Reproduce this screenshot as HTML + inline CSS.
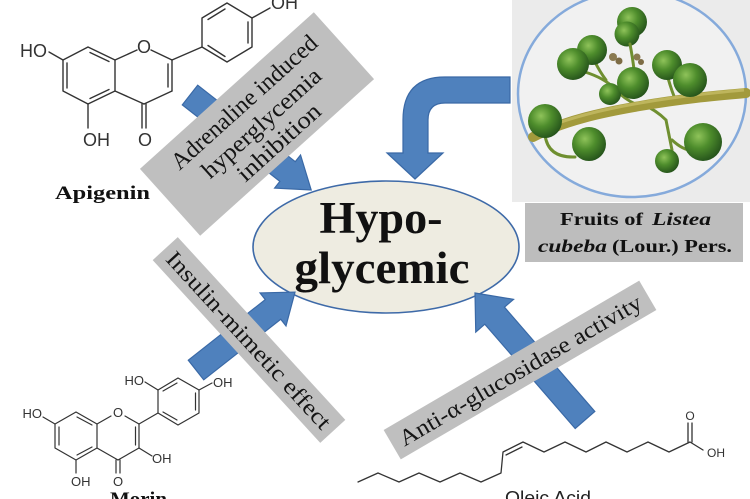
<!DOCTYPE html>
<html><head><meta charset="utf-8"><style>
html,body{margin:0;padding:0;background:#fff;}
svg{display:block;}
</style></head><body>
<svg width="750" height="499" viewBox="0 0 750 499" xmlns="http://www.w3.org/2000/svg">
<defs>
<radialGradient id="gb" cx="38%" cy="35%" r="70%">
<stop offset="0" stop-color="#8fc35a"/>
<stop offset="0.45" stop-color="#4e8d2c"/>
<stop offset="1" stop-color="#23501a"/>
</radialGradient>
</defs>
<rect width="750" height="499" fill="#fff"/>

<!-- Photo -->
<rect x="512" y="0" width="238" height="202" fill="#ebebeb"/>
<ellipse cx="632" cy="94" rx="114" ry="103" fill="#f1f1f1" stroke="#85aadb" stroke-width="2.5"/>
<g>
<circle cx="632" cy="22" r="15" fill="url(#gb)"/>
<circle cx="627" cy="34" r="12.5" fill="url(#gb)"/>
<g fill="none" stroke="#6f8f30" stroke-width="3" stroke-linecap="round">
<path d="M630,44 Q633,60 634,70"/>
<path d="M585,72 Q604,78 614,88 Q626,101 640,106"/>
<path d="M595,62 Q600,72 606,80"/>
<path d="M642,104 Q656,110 666,120 L672,150"/>
<path d="M668,78 Q672,92 676,101"/>
<path d="M688,94 Q680,98 676,103"/>
<path d="M672,140 Q685,152 695,150"/>
<path d="M545,135 Q548,158 575,157"/>
</g>
<path d="M533,137 C565,120 605,112 640,106 C680,99 712,96 746,93" fill="none" stroke="#a29a3c" stroke-width="10" stroke-linecap="round"/>
<path d="M540,130 C570,117 605,109 640,103 C680,96 712,93 744,90" fill="none" stroke="#c6bb64" stroke-width="3" opacity="0.8"/>
<circle cx="613" cy="57" r="4" fill="#8a7a50"/>
<circle cx="619" cy="61" r="3.5" fill="#7d6c45"/>
<circle cx="637" cy="57" r="3.5" fill="#8a7a50"/>
<circle cx="641" cy="62" r="3" fill="#7d6c45"/>
<circle cx="592" cy="50" r="15" fill="url(#gb)"/>
<circle cx="573" cy="64" r="16" fill="url(#gb)"/>
<circle cx="610" cy="94" r="11" fill="url(#gb)"/>
<circle cx="633" cy="83" r="16" fill="url(#gb)"/>
<circle cx="667" cy="65" r="15" fill="url(#gb)"/>
<circle cx="690" cy="80" r="17" fill="url(#gb)"/>
<circle cx="545" cy="121" r="17" fill="url(#gb)"/>
<circle cx="589" cy="144" r="17" fill="url(#gb)"/>
<circle cx="703" cy="142" r="19" fill="url(#gb)"/>
<circle cx="667" cy="161" r="12" fill="url(#gb)"/>
</g>

<!-- Fruits label -->
<rect x="525" y="203" width="218" height="59" fill="#bdbdbd"/>
<g font-family="'Liberation Serif', serif" font-weight="bold" font-size="18" fill="#111">
<text x="560" y="225" textLength="83" lengthAdjust="spacingAndGlyphs">Fruits of</text>
<text x="652" y="225" font-style="italic" textLength="59" lengthAdjust="spacingAndGlyphs">Listea</text>
<text x="538" y="252" font-style="italic" textLength="69" lengthAdjust="spacingAndGlyphs">cubeba</text>
<text x="612" y="252" textLength="120" lengthAdjust="spacingAndGlyphs">(Lour.) Pers.</text>
</g>

<!-- Ellipse -->
<ellipse cx="386" cy="247" rx="133" ry="66" fill="#eeece1" stroke="#3e6aa8" stroke-width="1.6"/>
<g font-family="'Liberation Serif', serif" font-weight="bold" font-size="45" fill="#111" text-anchor="middle">
<text x="381" y="233" textLength="123" lengthAdjust="spacingAndGlyphs">Hypo-</text>
<text x="382" y="283" textLength="175" lengthAdjust="spacingAndGlyphs">glycemic</text>
</g>

<!-- Arrows -->
<g fill="#4f81bd" stroke="#3a69a6" stroke-width="1.2" stroke-linejoin="miter">
<path d="M510,77 L445,77 Q403,77 403,120 L403,153 L387,153 L415,179 L443,153 L428,153 L428,120 Q428,103 445,103 L510,103 Z"/>
<polygon transform="translate(190,95) rotate(38.1)" points="0,-12.5 124,-12.5 124,-21 154,0 124,21 124,12.5 0,12.5"/>
<polygon transform="translate(196,370) rotate(-38.2)" points="0,-12.5 98,-12.5 98,-21 126,0 98,21 98,12.5 0,12.5"/>
<polygon transform="translate(585,420) rotate(-130.9)" points="0,-13 138,-13 138,-25 168,0 138,25 138,13 0,13"/>
</g>

<!-- Gray rotated labels -->
<g font-family="'Liberation Serif', serif" font-size="24" fill="#151515" text-anchor="middle">
<g transform="translate(257,124) rotate(-42)">
<rect x="-117" y="-45" width="234" height="90" fill="#bfbfbf"/>
<text x="5" y="-17" textLength="188" lengthAdjust="spacingAndGlyphs">Adrenaline induced</text>
<text x="4" y="10" textLength="152" lengthAdjust="spacingAndGlyphs">hyperglycemia</text>
<text x="4" y="36" textLength="104" lengthAdjust="spacingAndGlyphs">inhibition</text>
</g>
<g transform="translate(249,340) rotate(47.5)">
<rect x="-124" y="-17" width="248" height="34" fill="#bfbfbf"/>
<text x="0" y="8" font-size="23" textLength="232" lengthAdjust="spacingAndGlyphs">Insulin-mimetic effect</text>
</g>
<g transform="translate(520,370) rotate(-30.3)">
<rect x="-148" y="-17" width="296" height="34" fill="#bfbfbf"/>
<text x="0" y="8" font-size="23" textLength="277" lengthAdjust="spacingAndGlyphs">Anti-α-glucosidase activity</text>
</g>
</g>

<!-- Apigenin -->
<g fill="none" stroke="#333" stroke-width="1.4" stroke-linecap="round" stroke-linejoin="round">
<polygon points="88,47 115,60 115,91 88,104 63,91 63,60"/>
<line x1="67" y1="63" x2="67" y2="88"/>
<line x1="90" y1="52.5" x2="109" y2="61.5"/>
<line x1="90" y1="98.5" x2="109" y2="89.5"/>
<line x1="115" y1="60" x2="137" y2="50"/>
<line x1="151" y1="50" x2="172" y2="60"/>
<line x1="172" y1="60" x2="172" y2="91"/>
<line x1="168" y1="64" x2="168" y2="87"/>
<line x1="172" y1="91" x2="144" y2="104"/>
<line x1="144" y1="104" x2="115" y2="91"/>
<line x1="142" y1="104" x2="142" y2="128"/>
<line x1="146" y1="104" x2="146" y2="128"/>
<line x1="88" y1="104" x2="88" y2="128"/>
<line x1="63" y1="60" x2="49" y2="52"/>
<line x1="172" y1="60" x2="202" y2="47"/>
<polygon points="202,47 202,18 227,3 252,18 252,47 227,62"/>
<line x1="208" y1="19.5" x2="225" y2="9"/>
<line x1="248" y1="22" x2="248" y2="43"/>
<line x1="225" y1="56.5" x2="208" y2="45.5"/>
<line x1="252" y1="18" x2="270" y2="8"/>
</g>
<g font-family="'Liberation Sans', sans-serif" font-size="18" fill="#333">
<text x="47" y="57" text-anchor="end">HO</text>
<text x="144" y="53" text-anchor="middle">O</text>
<text x="83" y="146">OH</text>
<text x="145" y="146" text-anchor="middle">O</text>
<text x="271" y="9">OH</text>
</g>
<text x="55" y="199" font-family="'Liberation Serif', serif" font-weight="bold" font-size="19" fill="#111" textLength="95" lengthAdjust="spacingAndGlyphs">Apigenin</text>

<!-- Morin -->
<g fill="none" stroke="#333" stroke-width="1.2" stroke-linecap="round" stroke-linejoin="round">
<polygon points="76,412 97,424 97,448 76,460 55,448 55,424"/>
<line x1="59" y1="427" x2="59" y2="445"/>
<line x1="77" y1="417" x2="92" y2="425"/>
<line x1="77" y1="455" x2="92" y2="447"/>
<line x1="97" y1="424" x2="111" y2="416"/>
<line x1="125" y1="416" x2="139" y2="424"/>
<line x1="139" y1="424" x2="139" y2="448"/>
<line x1="135.5" y1="427" x2="135.5" y2="445"/>
<line x1="139" y1="448" x2="118" y2="460"/>
<line x1="118" y1="460" x2="97" y2="448"/>
<line x1="116" y1="460" x2="116" y2="473"/>
<line x1="120" y1="460" x2="120" y2="473"/>
<line x1="76" y1="460" x2="76" y2="473"/>
<line x1="55" y1="424" x2="43" y2="417"/>
<line x1="139" y1="448" x2="152" y2="456"/>
<line x1="139" y1="424" x2="158" y2="413"/>
<polygon points="158,413 158,390 178,378 199,390 199,413 178,425"/>
<line x1="195.5" y1="393" x2="195.5" y2="410"/>
<line x1="163" y1="391" x2="177" y2="383"/>
<line x1="177" y1="420" x2="163" y2="412"/>
<line x1="158" y1="390" x2="145" y2="382"/>
<line x1="199" y1="390" x2="212" y2="383"/>
</g>
<g font-family="'Liberation Sans', sans-serif" font-size="13" fill="#333">
<text x="42" y="418" text-anchor="end">HO</text>
<text x="118" y="417" text-anchor="middle">O</text>
<text x="118" y="486" text-anchor="middle">O</text>
<text x="71" y="486">OH</text>
<text x="152" y="463">OH</text>
<text x="144" y="385" text-anchor="end">HO</text>
<text x="213" y="387">OH</text>
</g>
<text x="110" y="505" font-family="'Liberation Serif', serif" font-weight="bold" font-size="19" fill="#111" textLength="57" lengthAdjust="spacingAndGlyphs">Morin</text>

<!-- Oleic acid -->
<g fill="none" stroke="#333" stroke-width="1.3" stroke-linecap="round" stroke-linejoin="round">
<polyline points="358,482 378,473 399,482 419,473 440,482 460,473 481,482 501,473 503,452 523,442 544,452 565,442 586,452 606,442 627,452 648,442 669,452 690,442 703,450"/>
<line x1="506" y1="455" x2="522" y2="447"/>
<line x1="688" y1="442" x2="688" y2="423"/>
<line x1="692" y1="442" x2="692" y2="423"/>
</g>
<g font-family="'Liberation Sans', sans-serif" font-size="12" fill="#333">
<text x="690" y="420" text-anchor="middle">O</text>
<text x="707" y="457">OH</text>
</g>
<text x="505" y="504" font-family="'Liberation Sans', sans-serif" font-size="18" fill="#222" textLength="86" lengthAdjust="spacingAndGlyphs">Oleic Acid</text>
</svg>
</body></html>
